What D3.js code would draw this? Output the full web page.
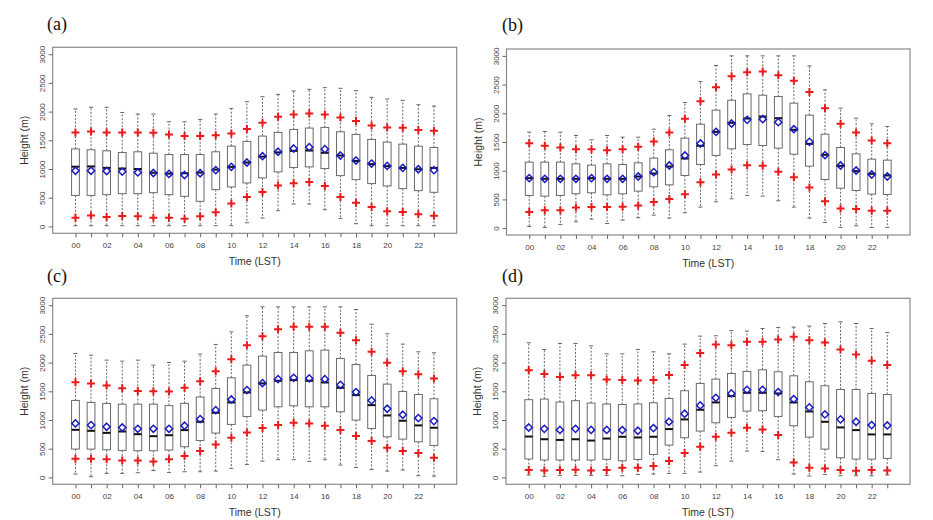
<!DOCTYPE html>
<html><head><meta charset="utf-8">
<script src="https://cdn.jsdelivr.net/npm/d3@7"></script>
<style>body{margin:0;background:#fff}svg{display:block}</style>
</head><body>
<script>
// ---------- DATA ----------
const hours = d3.range(24);
const hourLabels = ["00","02","04","06","08","10","12","14","16","18","20","22"];
const yTicks = [0,500,1000,1500,2000,2500,3000];
const panelLabels = ["(a)","(b)","(c)","(d)"];

// Panel (a)
const aHi   = [2045,2075,2075,1985,1957,1957,1823,1823,1864,1957,2056,2173,2260,2300,2359,2388,2417,2406,2365,2248,2219,2196,2120,2097];
const aP90  = [1637,1655,1637,1637,1637,1630,1600,1573,1573,1590,1620,1695,1806,1911,1951,1969,1951,1899,1835,1759,1724,1718,1678,1666];
const aQ3   = [1350,1335,1317,1287,1300,1275,1252,1252,1252,1300,1398,1480,1573,1637,1689,1713,1724,1648,1602,1515,1468,1433,1398,1375];
const aMed  = [1040,1045,1020,1008,1000,935,920,926,938,990,1037,1113,1215,1290,1316,1322,1282,1235,1140,1085,1050,1019,996,1019];
const aMean = [970,970,965,955,940,930,915,895,926,980,1037,1113,1223,1300,1357,1380,1346,1235,1148,1095,1054,1019,996,979];
const aQ1   = [540,540,553,570,570,588,553,524,437,640,687,757,845,950,1025,1037,1008,885,815,746,705,658,623,594];
const aP10  = [150,190,163,180,175,150,150,134,175,245,400,513,600,711,751,775,705,513,413,338,262,250,210,186];
const aLo   = [12,12,12,12,12,12,12,12,12,12,12,64,146,274,390,390,291,140,47,12,12,12,12,12];

// Panel (b)
const bHi   = [1671,1683,1671,1613,1538,1613,1584,1584,1723,1961,2188,2553,2832,3000,3000,3000,3000,3000,2826,2408,2089,1915,1816,1770];
const bP90  = [1480,1433,1404,1375,1375,1358,1375,1416,1509,1665,1903,2211,2455,2646,2716,2727,2663,2565,2373,2089,1816,1665,1526,1480];
const bQ3   = [1149,1149,1149,1120,1097,1120,1108,1137,1219,1364,1567,1810,2054,2228,2338,2315,2292,2176,1967,1636,1404,1294,1201,1184];
const bMed  = [870,859,859,859,870,859,859,899,952,1074,1213,1433,1677,1834,1909,1944,1915,1712,1468,1277,1085,992,946,917];
const bMean = [870,859,859,859,870,859,859,899,975,1091,1265,1474,1677,1822,1886,1898,1845,1723,1503,1271,1091,1004,934,899];
const bQ1   = [569,557,569,598,615,580,598,644,720,754,917,1108,1265,1381,1457,1439,1393,1288,1079,847,696,656,592,586];
const bP10  = [279,313,313,360,366,366,371,395,453,505,592,801,934,1021,1097,1085,981,888,708,470,342,331,302,302];
const bLo   = [29,12,64,110,157,81,139,180,226,174,267,366,458,511,569,557,476,366,174,99,12,41,12,12];

// Panel (c)
const cHi   = [2159,2130,2043,2025,2043,1956,2002,2025,2147,2316,2536,2815,2971,2971,2971,2971,2971,2971,2925,2670,2501,2322,2188,2171];
const cP90  = [1659,1635,1600,1553,1506,1500,1497,1561,1677,1851,2060,2304,2461,2583,2623,2623,2623,2519,2391,2188,1997,1851,1799,1724];
const cQ3   = [1341,1306,1288,1276,1276,1276,1250,1290,1400,1550,1735,1956,2113,2176,2176,2205,2217,2072,1967,1776,1625,1497,1445,1370];
const cMed  = [829,812,776,800,753,718,735,824,969,1126,1306,1480,1637,1683,1695,1683,1654,1561,1434,1259,1079,987,906,865];
const cMean = [941,912,882,870,847,847,847,900,1016,1172,1358,1521,1642,1712,1735,1724,1712,1613,1486,1341,1196,1091,1033,981];
const cQ1   = [494,494,482,470,465,465,476,534,644,772,923,1062,1172,1230,1248,1230,1230,1143,998,853,708,667,621,557];
const cP10  = [324,324,318,294,294,276,318,371,458,575,691,783,859,911,952,940,900,824,720,633,517,458,424,342];
const cLo   = [59,12,70,70,81,118,87,99,99,110,157,226,284,308,308,279,308,215,174,139,110,128,29,23];

// Panel (d)
const dHi   = [2345,2228,2333,2333,2292,2153,2153,2229,2188,2153,2322,2461,2467,2559,2548,2594,2612,2618,2635,2681,2710,2681,2594,2525];
const dP90  = [1867,1803,1750,1780,1780,1704,1695,1689,1695,1782,1956,2165,2316,2304,2362,2362,2403,2449,2391,2351,2229,2142,2031,1956];
const dQ3   = [1354,1365,1313,1336,1295,1278,1270,1280,1300,1375,1510,1637,1712,1811,1846,1875,1840,1770,1666,1596,1532,1532,1463,1445];
const dMed  = [712,665,653,665,642,677,708,696,708,842,1010,1178,1306,1416,1474,1474,1463,1306,1149,969,871,824,749,749];
const dMean = [869,846,828,846,828,828,824,813,859,969,1109,1254,1387,1463,1526,1526,1486,1364,1219,1097,1010,969,911,905];
const dQ1   = [321,303,303,303,303,315,290,313,400,563,691,807,952,1045,1155,1161,1062,900,702,493,342,319,319,331];
const dP10  = [128,122,128,134,122,128,168,168,197,284,424,534,708,778,865,836,737,261,168,157,128,116,128,122];
const dLo   = [41,18,35,35,35,35,29,52,58,70,70,93,203,284,459,453,308,58,23,52,29,29,29,41];

// ---------- LAYOUT ----------
const layout = [
  {left:52.7, right:456.7, top:47.3, bottom:233.3, lx:47, ly:30},
  {left:506.5, right:910, top:49, bottom:235, lx:502, ly:31},
  {left:52.7, right:456.7, top:298.3, bottom:484.3, lx:47, ly:282},
  {left:506, right:910, top:298.3, bottom:484.3, lx:502, ly:282}
];
const series = [
  [aHi,aP90,aQ3,aMed,aMean,aQ1,aP10,aLo],
  [bHi,bP90,bQ3,bMed,bMean,bQ1,bP10,bLo],
  [cHi,cP90,cQ3,cMed,cMean,cQ1,cP10,cLo],
  [dHi,dP90,dQ3,dMed,dMean,dQ1,dP10,dLo]
];

const SANS = "'Liberation Sans', Arial, Helvetica, sans-serif";
const SERIF = "'Liberation Serif', 'Times New Roman', serif";
const svg = d3.select("body").append("svg").attr("width",933).attr("height",520);
svg.append("rect").attr("width",933).attr("height",520).attr("fill","#fff");

layout.forEach((p, i) => {
  const [hi,p90,q3,med,mean,q1,p10,lo] = series[i];
  const rows = hours.map(h => ({h, hi:hi[h], p90:p90[h], q3:q3[h], med:med[h], mean:mean[h], q1:q1[h], p10:p10[h], lo:lo[h]}));
  const x = d3.scaleLinear().domain([-0.46, 25.46]).range([p.left, p.right]);
  const y = d3.scaleLinear().domain([-120, 3120]).range([p.bottom, p.top]);
  const g = svg.append("g");
  const bw = x(1.25) - x(1);
  const cw = x(1.13) - x(1);

  // frame
  g.append("rect").attr("x",p.left).attr("y",p.top).attr("width",p.right-p.left).attr("height",p.bottom-p.top)
    .attr("fill","none").attr("stroke","#8a8a8a").attr("stroke-width",1.2);

  // y axis
  const ya = g.append("g").attr("transform",`translate(${p.left},0)`)
    .call(d3.axisLeft(y).tickValues(yTicks).tickSize(4).tickFormat(d3.format("d")));
  ya.select(".domain").remove();
  ya.selectAll("line").attr("stroke","#666");
  ya.selectAll("text").attr("x",null).attr("dy",null)
    .attr("transform","translate(-8,0) rotate(-90)").attr("text-anchor","middle")
    .attr("fill","#444").style("font-family",SANS).style("font-size","8px");

  // x axis
  const xa = g.append("g").attr("transform",`translate(0,${p.bottom})`)
    .call(d3.axisBottom(x).tickValues(hours.map(h => h+1)).tickSize(4).tickPadding(5)
      .tickFormat(d => (d-1) % 2 === 0 ? hourLabels[(d-1)/2] : ""));
  xa.select(".domain").remove();
  xa.selectAll("line").attr("stroke","#666");
  xa.selectAll("text").attr("fill","#444").style("font-family",SANS).style("font-size","8px");

  // axis titles
  g.append("text").attr("x",(p.left+p.right)/2).attr("y",p.bottom+31.5).attr("text-anchor","middle")
    .attr("fill","#333").style("font-family",SANS).style("font-size","10.5px").text("Time (LST)");
  g.append("text").attr("transform",`translate(${p.left-25},${(p.top+p.bottom)/2}) rotate(-90)`)
    .attr("text-anchor","middle").attr("fill","#333").style("font-family",SANS).style("font-size","10.5px").text("Height (m)");
  g.append("text").attr("x",p.lx).attr("y",p.ly).attr("fill","#111")
    .style("font-family",SERIF).style("font-size","18px").text(panelLabels[i]);

  const box = g.append("g").selectAll("g").data(rows).join("g");
  // whiskers
  box.append("line").attr("x1",d=>x(d.h+1)).attr("x2",d=>x(d.h+1)).attr("y1",d=>y(d.q3)).attr("y2",d=>y(d.hi))
    .attr("stroke","#666").attr("stroke-dasharray","2,1.6");
  box.append("line").attr("x1",d=>x(d.h+1)).attr("x2",d=>x(d.h+1)).attr("y1",d=>y(d.q1)).attr("y2",d=>y(d.lo))
    .attr("stroke","#666").attr("stroke-dasharray","2,1.6");
  box.append("line").attr("x1",d=>x(d.h+1)-cw).attr("x2",d=>x(d.h+1)+cw).attr("y1",d=>y(d.hi)).attr("y2",d=>y(d.hi)).attr("stroke","#666");
  box.append("line").attr("x1",d=>x(d.h+1)-cw).attr("x2",d=>x(d.h+1)+cw).attr("y1",d=>y(d.lo)).attr("y2",d=>y(d.lo)).attr("stroke","#666");
  // box
  box.append("rect").attr("x",d=>x(d.h+1)-bw).attr("width",2*bw).attr("y",d=>y(d.q3)).attr("height",d=>y(d.q1)-y(d.q3))
    .attr("fill","#fff").attr("stroke","#6a6a6a").attr("stroke-width",1);
  // median
  box.append("line").attr("x1",d=>x(d.h+1)-bw).attr("x2",d=>x(d.h+1)+bw).attr("y1",d=>y(d.med)).attr("y2",d=>y(d.med))
    .attr("stroke","#111").attr("stroke-width",2);
  // percentile pluses
  const plus = (cx, cy, r) => `M${cx-r},${cy}L${cx+r},${cy}M${cx},${cy-r}L${cx},${cy+r}`;
  box.append("path").attr("d",d=>plus(x(d.h+1),y(d.p90),4)+plus(x(d.h+1),y(d.p10),4))
    .attr("stroke","#e81c1c").attr("stroke-width",2).attr("fill","none");
  // mean diamond (open)
  const diamond = (cx, cy, r) => `M${cx},${cy-r}L${cx+r},${cy}L${cx},${cy+r}L${cx-r},${cy}Z`;
  box.append("path").attr("d",d=>diamond(x(d.h+1),y(d.mean),3.6))
    .attr("stroke","#1c1cc0").attr("stroke-width",1.5).attr("fill","none");
});
</script>
</body></html>
